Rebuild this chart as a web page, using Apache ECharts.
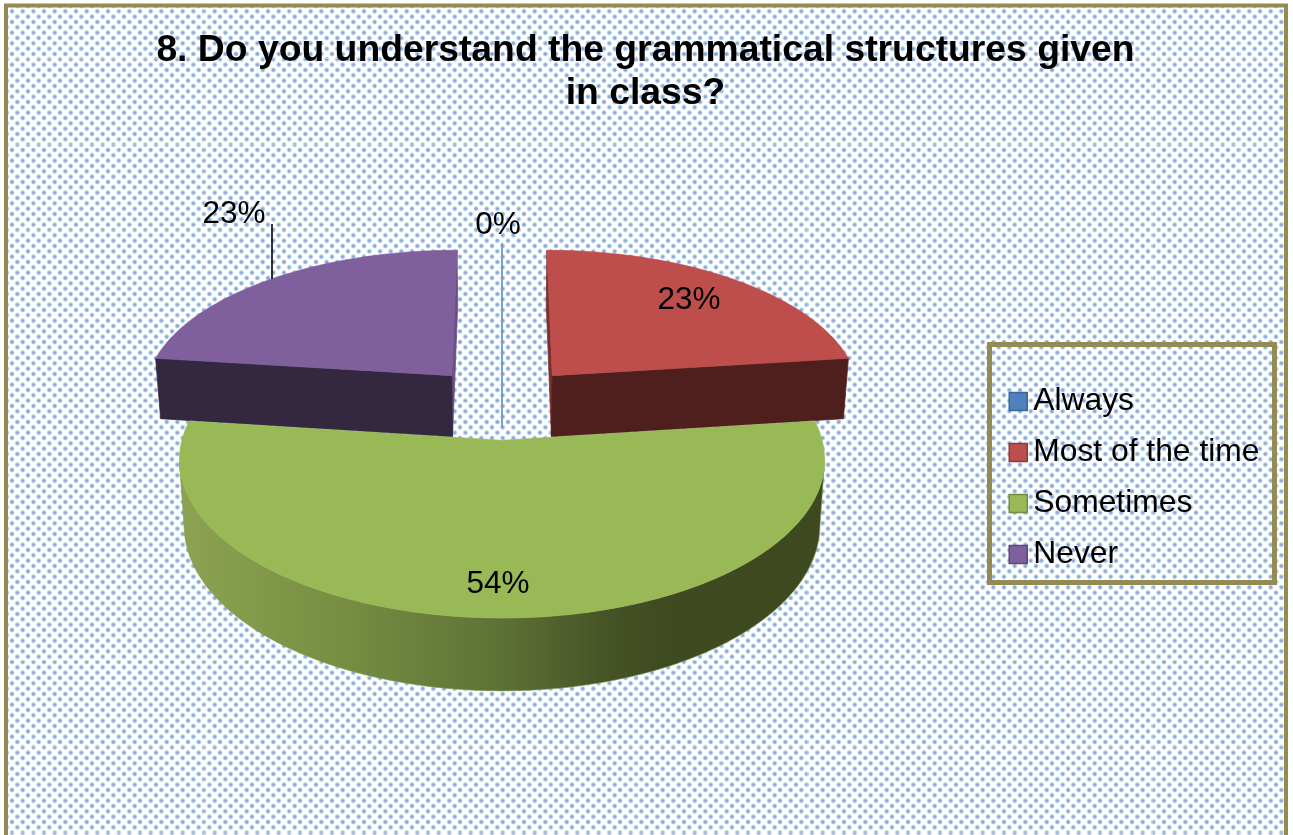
<!DOCTYPE html>
<html>
<head>
<meta charset="utf-8">
<title>Grammatical structures survey</title>
<style>
  html, body { margin: 0; padding: 0; background: #fff; overflow: hidden; }
  #chart { width: 1293px; height: 835px; }
</style>
<script src="https://cdn.jsdelivr.net/npm/echarts@6/dist/echarts.min.js"></script>
</head>
<body>
<div id="chart"></div>
<script>
// Survey results
const categories = ['Always', 'Most of the time', 'Sometimes', 'Never'];
const percentages = [0, 23, 54, 23];
const titleLines = ['8. Do you understand the grammatical structures given', 'in class?'];

// Slice colours: top face, radial cut faces, swatch border
const topColors = ['#4f81bd', '#be4e4b', '#99b957', '#7f609c'];
const frontFaceColors = ['#6f9bc9', '#4f1f1d', '#55672e', '#33283f'];
const backFaceColors = ['#6f9bc9', '#7c2f2c', '#55672e', '#6a5084'];
const swatchBorders = ['#3a6595', '#8f3a37', '#728c40', '#5e4774'];

// Projection of the tilted pie: a unit disc seen in perspective, two levels
const PIE = {
  cx: 502, perspective: 0.12, explode: 0.25,
  top: { y: 402.5, ax: 310.5, ay: 146.5 },
  bottom: { y: 465, ax: 306, ay: 153.6 }
};
const FONT = '"Liberation Sans", Arial, sans-serif';
const LABEL_FONT_SIZE = 31.5;
const labelCentres = [[498, 225], [689, 300], [498, 584], [234, 214]];
const LEADER = { index: 3, x: 272, y1: 224, y2: 279 };

const total = percentages.reduce((s, v) => s + v, 0);

function sliceAngles(i) {
  let before = 0;
  for (let k = 0; k < i; k++) before += percentages[k];
  const toAngle = v => (v / total) * Math.PI * 2;
  return [toAngle(before), toAngle(before + percentages[i])];
}

function project(u, v, level) {
  const w = 1 - PIE.perspective * v;
  return [PIE.cx + level.ax * u / w, level.y + level.ay * v / w];
}

function rimPoint(a, mid, level) {
  const e = PIE.explode;
  return project(Math.sin(mid) * e + Math.sin(a), -Math.cos(mid) * e - Math.cos(a), level);
}

function apexPoint(mid, level) {
  const e = PIE.explode;
  return project(Math.sin(mid) * e, -Math.cos(mid) * e, level);
}

function rimArc(a0, a1, mid, level) {
  const steps = Math.max(1, Math.ceil(Math.abs(a1 - a0) / 0.02));
  const pts = [];
  for (let s = 0; s <= steps; s++) pts.push(rimPoint(a0 + (a1 - a0) * s / steps, mid, level));
  return pts;
}

// Part of an arc lying between its rightmost and leftmost points
function silhouette(arc) {
  let right = 0, left = 0;
  arc.forEach((p, k) => {
    if (p[0] > arc[right][0]) right = k;
    if (p[0] < arc[left][0]) left = k;
  });
  return arc.slice(right, left + 1);
}

function poly(points, fill, stroke, lineWidth) {
  return {
    type: 'polygon',
    shape: { points },
    style: { fill, stroke, lineWidth: lineWidth === undefined ? 0.8 : lineWidth }
  };
}

function renderSlice(i) {
  return function () {
    const [a0, a1] = sliceAngles(i);
    const mid = (a0 + a1) / 2;
    const t = PIE.top, b = PIE.bottom;
    const children = [];
    const cutFace = (a, colour, width) => poly(
      [rimPoint(a, mid, t), apexPoint(mid, t), apexPoint(mid, b), rimPoint(a, mid, b)],
      colour, colour, width
    );

    if (Math.cos(mid) < 0) {
      // Front-facing slice: only its curved wall is visible
      const wall = silhouette(rimArc(a0, a1, mid, t))
        .concat(silhouette(rimArc(a0, a1, mid, b)).reverse());
      const shade = new echarts.graphic.LinearGradient(0, 0, 1, 0, [
        { offset: 0, color: '#8da352' },
        { offset: 0.25, color: '#778e43' },
        { offset: 0.5, color: '#5e7135' },
        { offset: 0.66, color: '#465426' },
        { offset: 0.75, color: '#3f4a20' },
        { offset: 1, color: '#3e4920' }
      ]);
      children.push(poly(wall, shade, '#7f9848', 0.6));
    } else {
      const width = percentages[i] === 0 ? 1.4 : 0.8;
      children.push(cutFace(a0 < Math.PI ? a0 : a1, backFaceColors[i], width));
      children.push(cutFace(a0 < Math.PI ? a1 : a0, frontFaceColors[i], width));
    }

    const face = rimArc(a0, a1, mid, t).concat([apexPoint(mid, t)]);
    if (percentages[i] > 0) children.push(poly(face, topColors[i], topColors[i], 0.6));

    if (LEADER.index === i) {
      children.push({
        type: 'line',
        shape: { x1: LEADER.x, y1: LEADER.y1, x2: LEADER.x, y2: LEADER.y2 },
        style: { stroke: '#000', lineWidth: 1.6 }
      });
    }

    children.push({
      type: 'text',
      z2: 10,
      style: {
        text: percentages[i] + '%',
        x: labelCentres[i][0],
        y: labelCentres[i][1],
        align: 'center',
        verticalAlign: 'middle',
        fill: '#000',
        font: LABEL_FONT_SIZE + 'px ' + FONT
      }
    });
    return { type: 'group', children };
  };
}

// Dotted paper behind the plot: one soft dot stamped over a staggered lattice
function buildDottedPaper(width, height) {
  const canvas = document.createElement('canvas');
  canvas.width = width;
  canvas.height = height;
  const ctx = canvas.getContext('2d');
  ctx.fillStyle = '#ffffff';
  ctx.fillRect(0, 0, width, height);

  const dot = document.createElement('canvas');
  dot.width = dot.height = 8;
  const dotCtx = dot.getContext('2d');
  const glow = dotCtx.createRadialGradient(4, 4, 0, 4, 4, 2.85);
  glow.addColorStop(0, 'rgba(84,138,208,0.9)');
  glow.addColorStop(0.5, 'rgba(84,138,208,0.62)');
  glow.addColorStop(1, 'rgba(84,138,208,0)');
  dotCtx.fillStyle = glow;
  dotCtx.fillRect(0, 0, 8, 8);

  const pitch = 32 / 3;
  for (let row = -1; row * pitch / 2 < height; row++) {
    const y = 11.3 + row * pitch / 2;
    const shift = ((row % 2) + 2) % 2 === 0 ? 0 : pitch / 2;
    for (let col = -2; col * pitch < width; col++) {
      ctx.drawImage(dot, 12 + col * pitch + shift - 4, y - 4);
    }
  }
  ctx.fillStyle = 'rgba(255,255,255,0.3)';
  for (let x = 31; x < width; x += 86.25) ctx.fillRect(Math.round(x), 0, 1, height);
  for (let y = 58; y < height; y += 86) ctx.fillRect(0, Math.round(y), width, 1);
  return canvas;
}

const chart = echarts.init(document.getElementById('chart'), null, { renderer: 'canvas' });

chart.setOption({
  animation: false,
  backgroundColor: '#ffffff',
  title: {
    text: titleLines.join('\n'),
    left: 640.5,
    top: 24,
    textAlign: 'center',
    textStyle: {
      fontFamily: FONT,
      fontWeight: 'bold',
      fontSize: 37.3,
      lineHeight: 43,
      color: '#000'
    }
  },
  legend: {
    orient: 'vertical',
    left: 989.5,
    top: 344.5,
    padding: [41, 15, 12, 19],
    itemGap: 19,
    itemWidth: 18,
    itemHeight: 18,
    borderColor: '#948a54',
    borderWidth: 5,
    selectedMode: false,
    icon: 'rect',
    textStyle: {
      fontFamily: FONT,
      fontSize: 31.8,
      color: '#000',
      padding: [0, 0, 0, 1]
    },
    data: categories.map((name, i) => ({
      name,
      itemStyle: { color: topColors[i], borderColor: swatchBorders[i], borderWidth: 1.5 }
    }))
  },
  graphic: [{
    type: 'rect',
    z: -10,
    shape: { x: 6, y: 5.5, width: 1280, height: 860 },
    style: {
      fill: { image: buildDottedPaper(1293, 835), repeat: 'repeat' },
      stroke: '#948a54',
      lineWidth: 4
    }
  }],
  series: categories.map((name, i) => ({
    type: 'custom',
    name,
    coordinateSystem: 'none',
    z: Math.cos((sliceAngles(i)[0] + sliceAngles(i)[1]) / 2) < 0 ? 4 : 2,
    itemStyle: { color: topColors[i] },
    renderItem: renderSlice(i),
    data: [percentages[i]]
  }))
});
</script>
</body>
</html>
